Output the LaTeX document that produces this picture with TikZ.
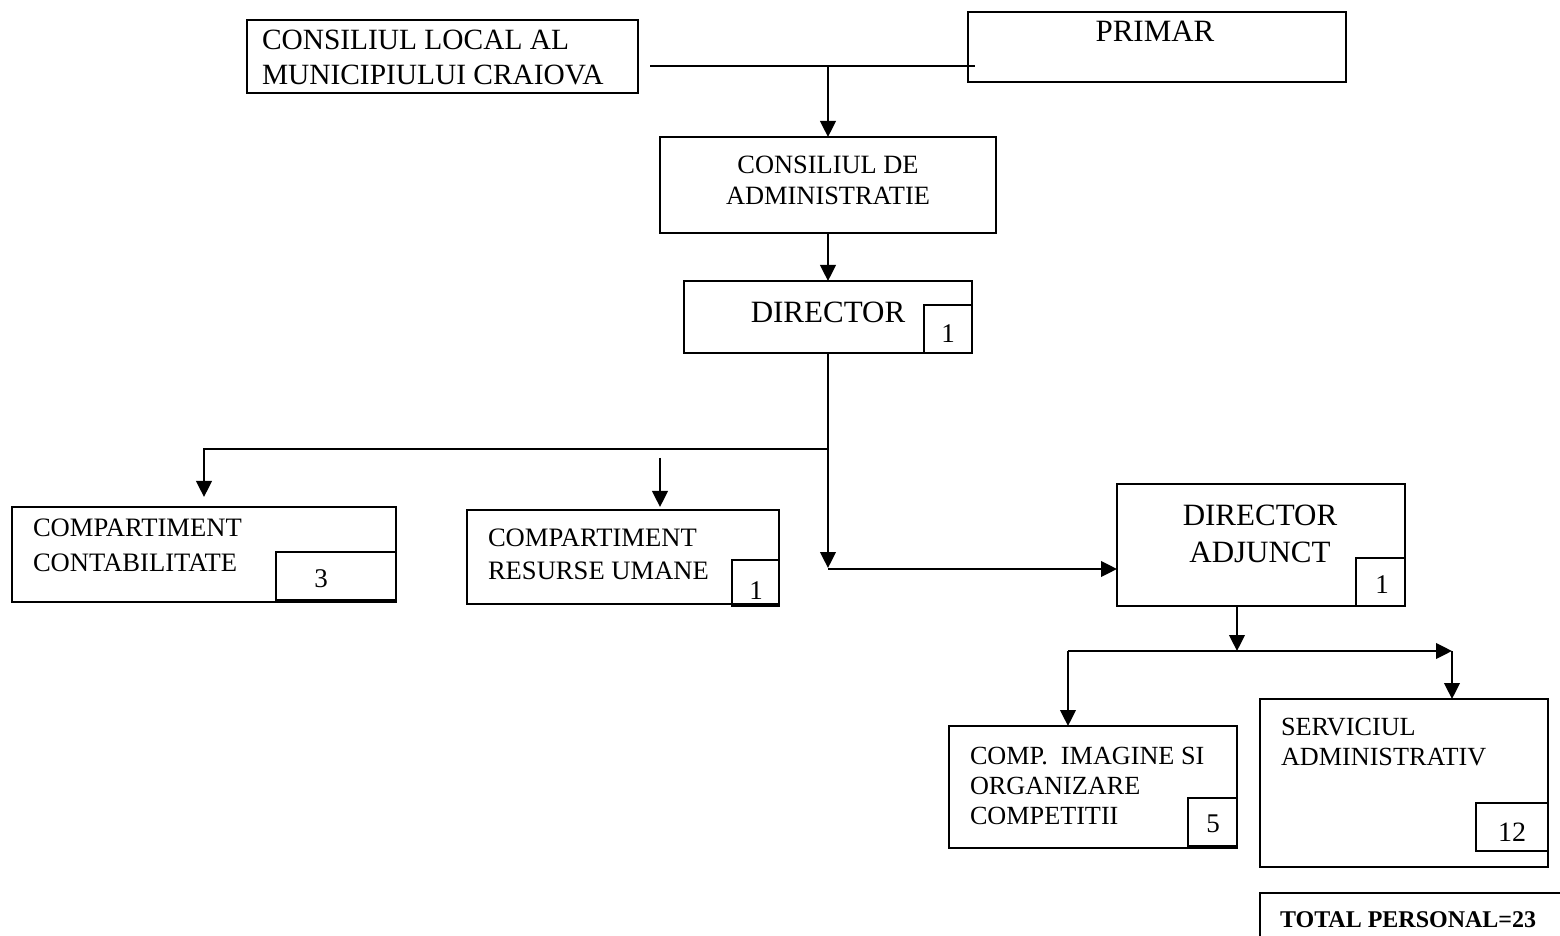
\documentclass[tikz,border=0pt]{standalone}
\usepackage{fontspec}
\setmainfont{Liberation Serif}
\usetikzlibrary{arrows.meta}
\begin{document}
\begin{tikzpicture}[x=0.5pt,y=-0.5pt,
 box/.style={draw, line width=1.2pt, inner sep=0pt, outer sep=0pt, anchor=north west},
 lbl/.style={inner sep=0pt, outer sep=0pt, align=left, anchor=north west},
 ctr/.style={inner sep=0pt, outer sep=0pt, align=center, anchor=north},
 num/.style={inner sep=0pt, outer sep=0pt, font=\fontsize{13.5}{16}\selectfont},
 conn/.style={line width=1pt},
 arr/.style={conn, -{Triangle[length=8pt,width=7.8pt]}}]
\useasboundingbox (0,0) rectangle (1560,936);
% boxes
\node[box, minimum width=195.5pt, minimum height=36.5pt] (cl) at (247,20) {};
\node[box, minimum width=189pt, minimum height=35pt] (pr) at (968,12) {};
\node[box, minimum width=168pt, minimum height=48pt] (ca) at (660,137) {};
\node[box, minimum width=144pt, minimum height=36pt] (dir) at (684,281) {};
\node[box, minimum width=24pt, minimum height=24pt] (dirn) at (924,305) {};
\node[box, minimum width=192pt, minimum height=47.5pt] (cc) at (12,507) {};
\node[box, minimum width=60pt, minimum height=24pt] (ccn) at (276,552) {};
\node[box, minimum width=156pt, minimum height=47pt] (ru) at (467,510) {};
\node[box, minimum width=23.5pt, minimum height=23pt] (run) at (732,560) {};
\node[box, minimum width=144pt, minimum height=61pt] (da) at (1117,484) {};
\node[box, minimum width=24.5pt, minimum height=24pt] (dan) at (1356,558) {};
\node[box, minimum width=144pt, minimum height=61pt] (ci) at (949,726) {};
\node[box, minimum width=24.5pt, minimum height=24pt] (cin) at (1188,798) {};
\node[box, minimum width=144pt, minimum height=84pt] (sa) at (1260,699) {};
\node[box, minimum width=36pt, minimum height=24pt] (san) at (1476,803) {};
\node[box, minimum width=160pt, minimum height=30pt] (tot) at (1260,893) {};
% texts
\node[lbl, font=\fontsize{14.7}{17.5}\selectfont] (clt) at (262,30) {CONSILIUL LOCAL AL\\MUNICIPIULUI CRAIOVA};
\node[ctr, font=\fontsize{15.5}{18}\selectfont] (prt) at (1155,21) {PRIMAR};
\node[ctr, font=\fontsize{13.2}{15.5}\selectfont] (cat) at (828,156) {CONSILIUL DE\\ADMINISTRATIE};
\node[ctr, font=\fontsize{15.5}{18.5}\selectfont] (dirt) at (828,302) {DIRECTOR};
\node[num] (dirnt) at (948,334) {1};
\node[lbl, font=\fontsize{13.3}{17.5}\selectfont] (cct) at (33,519) {COMPARTIMENT\\CONTABILITATE};
\node[num] (ccnt) at (321,579) {3};
\node[lbl, font=\fontsize{13.3}{16.5}\selectfont] (rut) at (488,529) {COMPARTIMENT\\RESURSE UMANE};
\node[num] (runt) at (756,591) {1};
\node[ctr, font=\fontsize{15.5}{18.5}\selectfont] (dat) at (1260,505) {DIRECTOR\\ADJUNCT};
\node[num] (dant) at (1382,585) {1};
\node[lbl, font=\fontsize{13.1}{15}\selectfont] (cit) at (970,747) {COMP.\ \ IMAGINE SI\\ORGANIZARE\\COMPETITII};
\node[num] (cint) at (1213,824) {5};
\node[lbl, font=\fontsize{13.1}{15}\selectfont] (sat) at (1281,718) {SERVICIUL\\ADMINISTRATIV};
\node[num, font=\fontsize{14}{16}\selectfont] (sant) at (1512,832) {12};
\node[lbl, font=\bfseries\fontsize{12}{14}\selectfont] (tott) at (1280,912) {TOTAL PERSONAL=23};
% connectors
\coordinate (hl) at (650,66);
\coordinate (hr) at (975,66);
\coordinate (hm) at (828,66);
\draw[conn] (hl) -- (hr);
\draw[arr] (hm) -- (ca.north);
\draw[arr] (ca.south) -- (dir.north);
\coordinate (j1) at (828,449);
\coordinate (j1l) at (204,449);
\coordinate (ccin) at (204,497);
\draw[arr] (j1) -- (j1l) -- (ccin);
\coordinate (rus) at (660,458);
\coordinate (rue) at (660,507);
\draw[arr] (rus) -- (rue);
\coordinate (j2) at (828,568);
\draw[arr] (dir.south) -- (j2);
\coordinate (j2b) at (828,569);
\coordinate (dain) at (1117,569);
\draw[arr] (j2b) -- (dain);
\coordinate (das) at (1237,606);
\coordinate (j3) at (1237,651);
\draw[arr] (das) -- (j3);
\coordinate (j3l) at (1068,651);
\coordinate (j3r) at (1452,651);
\draw[arr] (j3l) -- (j3r);
\coordinate (sain) at (1452,699);
\draw[arr] (j3r) -- (sain);
\coordinate (ciin) at (1068,726);
\draw[arr] (j3l) -- (ciin);
\end{tikzpicture}
\end{document}
